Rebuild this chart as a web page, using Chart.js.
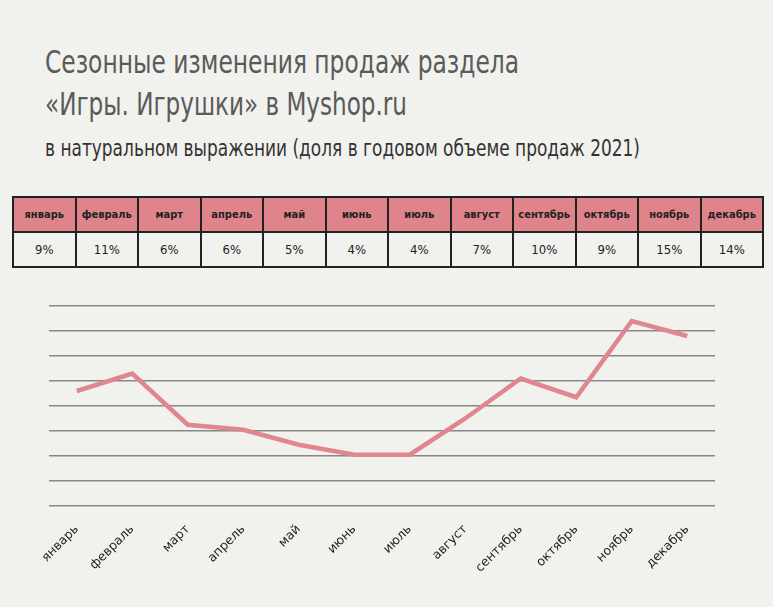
<!DOCTYPE html>
<html><head><meta charset="utf-8">
<script src="https://cdn.jsdelivr.net/npm/chart.js@4/dist/chart.umd.min.js"></script>
<style>
html,body{margin:0;padding:0;background:#f1f1ed;width:773px;height:607px;overflow:hidden;position:relative;font-family:"Liberation Sans Narrow","DejaVu Sans",sans-serif;font-stretch:condensed;}
.fit{position:absolute;left:45px;white-space:nowrap;transform-origin:0 0;}
#t1a,#t1b{font-size:32px;color:#5a5a5a;}
#t1a{top:43px;}
#t1b{top:85px;}
#t2{top:135px;font-size:23px;color:#333;}
table{position:absolute;left:12px;top:196px;width:752px;border-collapse:collapse;table-layout:fixed;}
td{border:2px solid #222;text-align:center;height:33px;padding:0;font-family:"DejaVu Sans",sans-serif;font-stretch:condensed;color:#222;}
tr.h td{background:#e0848c;font-weight:bold;font-size:11px;}
tr.v td{background:#f1f1ed;font-size:13px;}
#wrap{position:absolute;left:0;top:290px;width:773px;height:317px;}
</style></head><body>
<div id="t1a" class="fit" data-w="474">Сезонные изменения продаж раздела</div>
<div id="t1b" class="fit" data-w="362">«Игры. Игрушки» в Myshop.ru</div>
<div id="t2" class="fit" data-w="595">в натуральном выражении (доля в годовом объеме продаж 2021)</div>
<table><tr class="h" id="hr"></tr><tr class="v" id="vr"></tr></table>
<div id="wrap"><canvas id="c" width="773" height="317"></canvas></div>
<script>
const months = ["январь","февраль","март","апрель","май","июнь","июль","август","сентябрь","октябрь","ноябрь","декабрь"];
const tableValues = ["9%","11%","6%","6%","5%","4%","4%","7%","10%","9%","15%","14%"];
const shares = [9.2, 10.6, 6.5, 6.1, 4.9, 4.1, 4.1, 7.0, 10.2, 8.7, 14.8, 13.6];
const yMin = 0, yMax = 16, yStep = 2;

document.querySelectorAll('.fit').forEach(el=>{
  const w = el.getBoundingClientRect().width;
  el.style.transform = 'scaleX(' + (parseFloat(el.dataset.w)/w) + ')';
});

const hr = document.getElementById('hr'), vr = document.getElementById('vr');
months.forEach((m,i)=>{
  const a=document.createElement('td');a.textContent=m;hr.appendChild(a);
  const b=document.createElement('td');b.textContent=tableValues[i];vr.appendChild(b);
});

new Chart(document.getElementById('c'), {
  type:'line',
  data:{labels:months,datasets:[{data:shares,borderColor:'#e0868e',borderWidth:4.5,pointRadius:0,tension:0,fill:false,borderJoinStyle:'miter'}]},
  options:{
    responsive:false,animation:false,
    layout:{padding:{top:16,left:49,right:58,bottom:0}},
    plugins:{legend:{display:false},tooltip:{enabled:false},title:{display:false}},
    scales:{
      x:{offset:true,grid:{display:false},border:{display:false},
         ticks:{color:'#222',font:{family:'"DejaVu Sans","Liberation Sans",sans-serif',size:12.5},minRotation:45,maxRotation:45,padding:8,autoSkip:false},
         afterFit:(s)=>{s.height=101;}},
      y:{min:yMin,max:yMax,ticks:{display:false,stepSize:yStep},border:{display:false},
         grid:{color:'#888',lineWidth:1.5,drawTicks:false},
         afterFit:(s)=>{s.width=0;}}
    }
  }
});
</script>
</body></html>
